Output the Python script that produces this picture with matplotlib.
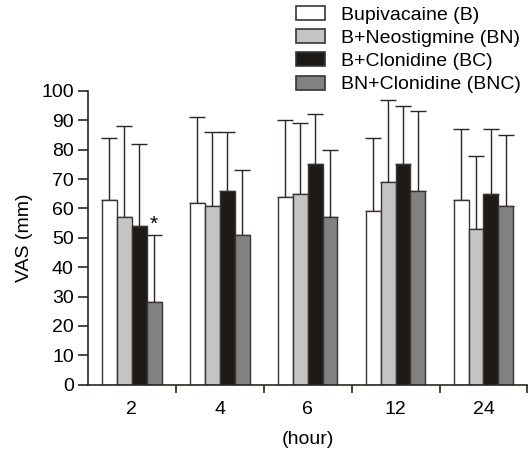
import numpy as np
import matplotlib
matplotlib.use("Agg")
import matplotlib.pyplot as plt

plt.rcParams['font.family'] = ['Liberation Sans', 'DejaVu Sans']

hours = ["2", "4", "6", "12", "24"]
groups = ["Bupivacaine (B)", "B+Neostigmine (BN)", "B+Clonidine (BC)", "BN+Clonidine (BNC)"]
colors = ["#ffffff", "#c4c4c4", "#1e1a18", "#828282"]

# mean VAS and top of error bar (mean + SD)
vas_B = [63, 62, 64, 59, 63]
vas_BN = [57, 61, 65, 69, 53]
vas_BC = [54, 66, 75, 75, 65]
vas_BNC = [28, 51, 57, 66, 61]
top_B = [84, 91, 90, 84, 87]
top_BN = [88, 86, 89, 97, 78]
top_BC = [82, 86, 92, 95, 87]
top_BNC = [51, 73, 80, 93, 85]

means = [vas_B, vas_BN, vas_BC, vas_BNC]
tops = [top_B, top_BN, top_BC, top_BNC]

fs = 14

fig = plt.figure(figsize=(5.28, 4.5), dpi=100)
ax = fig.add_axes([0.166, 0.145, 0.833, 0.653])

x = np.arange(len(hours)) + 0.5
w = 0.17
for i in range(4):
    xi = x + (i - 1.5) * w
    m = np.array(means[i])
    err = np.array(tops[i]) - m
    ax.bar(xi, m, w, color=colors[i], edgecolor="#3a3532", linewidth=1, label=groups[i], zorder=2)
    ax.errorbar(xi, m, yerr=[np.zeros(len(m)), err], fmt="none", ecolor="#2a2522",
                elinewidth=1, capsize=6, capthick=1, zorder=1)

# significance mark on 2 h BNC
ax.text(x[0] + 1.5 * w, top_BNC[0] + 0.5, "*", ha="center", va="bottom", fontsize=15)

ax.set_xlim(0, 5)
ax.set_ylim(0, 100)
ax.set_yticks(np.arange(0, 101, 10))
ax.set_xticks([1, 2, 3, 4, 5])
ax.set_xticklabels([])
ax.set_xticks(x, minor=True)
ax.set_xticklabels(hours, minor=True)
ax.tick_params(axis="x", which="minor", length=0, pad=12, labelsize=fs)
ax.tick_params(axis="x", which="major", length=6, width=1.2, color="#2a2522")
ax.tick_params(axis="y", length=7, width=1.2, pad=3, labelsize=fs, color="#2a2522")
for s in ["top", "right"]:
    ax.spines[s].set_visible(False)
for s in ["left", "bottom"]:
    ax.spines[s].set_linewidth(1.2)
    ax.spines[s].set_color("#2a2522")

ax.set_ylabel("VAS (mm)", fontsize=fs, labelpad=6)
ax.set_xlabel("(hour)", fontsize=fs, labelpad=9)

leg = fig.legend(loc="upper left", bbox_to_anchor=(0.553, 0.995), frameon=False, fontsize=fs,
                 handlelength=1.5, handleheight=0.72, handletextpad=0.8, labelspacing=0.28,
                 borderaxespad=0, borderpad=0.2)
for p in leg.get_patches():
    p.set_edgecolor("#3a3532")
    p.set_linewidth(1.2)

fig.savefig("out.png", dpi=100)
